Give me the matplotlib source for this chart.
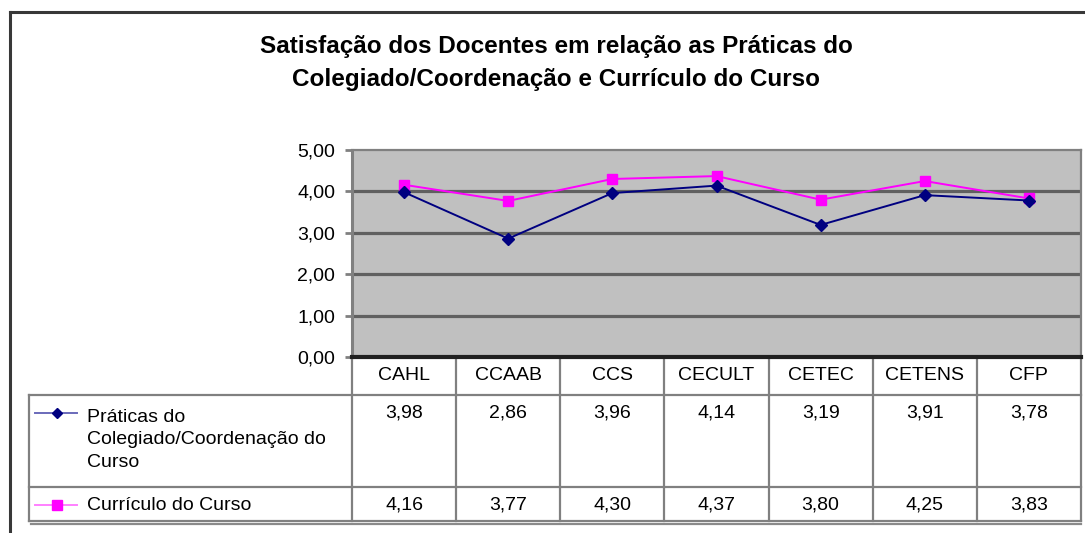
import matplotlib
matplotlib.use("Agg")
import matplotlib.pyplot as plt

plt.rcParams['font.family'] = ['Liberation Sans', 'DejaVu Sans']

categories = ["CAHL", "CCAAB", "CCS", "CECULT", "CETEC", "CETENS", "CFP"]
praticas = [3.98, 2.86, 3.96, 4.14, 3.19, 3.91, 3.78]
curriculo = [4.16, 3.77, 4.30, 4.37, 3.80, 4.25, 3.83]
series_names = ["Práticas do\nColegiado/Coordenação do\nCurso", "Currículo do Curso"]
yticks = [0, 1, 2, 3, 4, 5]
title = "Satisfação dos Docentes em relação as Práticas do\nColegiado/Coordenação e Currículo do Curso"

W, H = 1085, 533
fig = plt.figure(figsize=(W / 100, H / 100), dpi=100)
fig.patch.set_facecolor("white")
FS = 14

# plot area in pixel coords
PL, PR, PT, PB = 352, 1081, 150, 357
ax = fig.add_axes([PL / W, 1 - PB / H, (PR - PL) / W, (PB - PT) / H])
ax.set_facecolor("#C0C0C0")
n = len(categories)
ax.set_xlim(0, n)
ax.set_ylim(0, 5)
xs = [i + 0.5 for i in range(n)]
for y in yticks[1:5]:
    ax.axhline(y, color="#606060", lw=2.3, zorder=1)
ax.plot(xs, curriculo, color="#FF00FF", lw=1.4, marker="s", ms=7.5, mec="#FF00FF", zorder=3)
ax.plot(xs, praticas, color="#000080", lw=1.4, marker="D", ms=6.5, mec="#000080", zorder=4)
ax.set_xticks([])
ax.set_yticks(yticks)
ax.set_yticklabels([f"{v:.2f}".replace(".", ",") for v in yticks], fontsize=FS)
ax.tick_params(axis="y", length=5, width=2, color="#808080", pad=7)
for s in ["left", "top", "right"]:
    ax.spines[s].set_color("#808080")
ax.spines["left"].set_linewidth(2.2)
ax.spines["top"].set_linewidth(1.6)
ax.spines["right"].set_linewidth(1.6)
ax.spines["bottom"].set_color("#202020")
ax.spines["bottom"].set_linewidth(3)
ax.spines["bottom"].set_zorder(5)

# overlay in pixel coordinates
ov = fig.add_axes([0, 0, 1, 1], zorder=-1)
ov.set_xlim(0, W)
ov.set_ylim(H, 0)
ov.axis("off")

# outer border
ov.plot([10, 10], [12, H + 5], color="#383838", lw=2.2)
ov.plot([10, W + 5], [12, 12], color="#383838", lw=2.2)

# title
ov.text(556, 63, title, ha="center", va="center", fontsize=17.5, fontweight="bold",
        linespacing=1.55)

# table
cw = (PR - PL) / n
gray = "#808080"
TL = 29
ROW0, ROW1, ROW2, ROW3 = PB, 395, 487, 521
for i in range(n + 1):
    x = PL + i * cw
    ov.plot([x, x], [ROW0, ROW3], color=gray, lw=1.6)
ov.plot([TL, TL], [ROW1, ROW3], color=gray, lw=1.6)
ov.plot([TL, PR], [ROW1, ROW1], color=gray, lw=1.6)
ov.plot([TL, PR], [ROW2, ROW2], color=gray, lw=1.6)
ov.plot([TL, PR], [ROW3, ROW3], color=gray, lw=1.6)
ov.plot([TL + 2, PR], [ROW3 + 2.5, ROW3 + 2.5], color="#8a8a8a", lw=1.6)

for i, c in enumerate(categories):
    ov.text(PL + (i + 0.5) * cw, 376, c, ha="center", va="center", fontsize=FS)
for i, v in enumerate(praticas):
    ov.text(PL + (i + 0.5) * cw, 413, f"{v:.2f}".replace(".", ","), ha="center", va="center", fontsize=FS)
for i, v in enumerate(curriculo):
    ov.text(PL + (i + 0.5) * cw, 505, f"{v:.2f}".replace(".", ","), ha="center", va="center", fontsize=FS)

# legend keys
ov.plot([35, 77], [413, 413], color="#6A6ABA", lw=1.4)
ov.plot([57], [413], marker="D", color="#000080", ms=5.5)
ov.text(87, 440, series_names[0], ha="left", va="center", fontsize=FS, linespacing=1.42)
ov.plot([35, 77], [505, 505], color="#FF80FF", lw=1.4)
ov.plot([57], [505], marker="s", color="#FF00FF", ms=7)
ov.text(87, 505, series_names[1], ha="left", va="center", fontsize=FS)

fig.savefig("out.png", dpi=100, facecolor="white")
